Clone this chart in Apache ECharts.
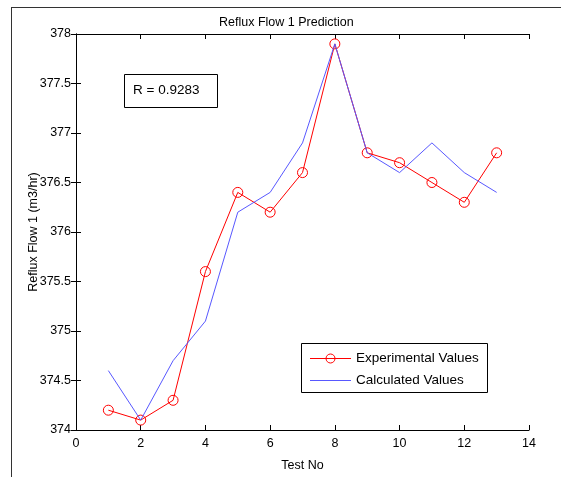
<!DOCTYPE html>
<html><head><meta charset="utf-8">
<script src="https://cdn.jsdelivr.net/npm/echarts@6/dist/echarts.min.js"></script>
<style>html,body{margin:0;padding:0;background:#fff}#c{width:561px;height:477px}</style>
</head><body><div id="c"></div>
<script>
const testNo = [1,2,3,4,5,6,7,8,9,10,11,12,13];
const experimental = [374.2,374.1,374.3,375.6,376.4,376.2,376.6,377.9,376.8,376.7,376.5,376.3,376.8];
const calculated = [374.6,374.1,374.7,375.1,376.2,376.4,376.9,377.9,376.8,376.6,376.9,376.6,376.4];
const titleText = 'Reflux Flow 1 Prediction';
const xName = 'Test No';
const yName = 'Reflux Flow 1 (m3/hr)';
const rText = 'R = 0.9283';
const seriesNames = ['Experimental Values','Calculated Values'];

const font = 'Liberation Sans, Arial, sans-serif';
const red = '#ff0000', blue = '#5858ff';
const chart = echarts.init(document.getElementById('c'), null, {renderer:'canvas'});
const pair = (xs, ys) => xs.map((x,i)=>[x, ys[i]]);
const axisCommon = {
  axisLine:{show:true, lineStyle:{color:'#000', width:1}},
  axisTick:{show:true, inside:true, length:5, lineStyle:{color:'#000'}},
  splitLine:{show:false}
};
chart.setOption({
  animation:false,
  backgroundColor:'#fff',
  title:{text:titleText, left:214, top:11,
    textStyle:{fontFamily:font, fontSize:12.5, fontWeight:'normal', color:'#000'}},
  grid:{left:76, right:32, top:34, bottom:44, containLabel:false},
  xAxis:[
    Object.assign({type:'value', min:0, max:14, interval:2, name:xName, nameLocation:'middle', nameGap:29,
      nameMoveOverlap:false,
      nameTextStyle:{fontFamily:font, fontSize:12.5, color:'#000'},
      axisLabel:{fontFamily:font, fontSize:12.5, color:'#000', margin:7}}, axisCommon),
    Object.assign({type:'value', min:0, max:14, interval:2, position:'top', axisLabel:{show:false}}, axisCommon)
  ],
  yAxis:[
    Object.assign({type:'value', min:374, max:378, interval:0.5, name:yName, nameLocation:'middle', nameGap:36,
      nameMoveOverlap:false,
      nameTextStyle:{fontFamily:font, fontSize:12.5, color:'#000'},
      axisLabel:{fontFamily:font, fontSize:12.5, color:'#000', margin:5}}, axisCommon),
    Object.assign({type:'value', min:374, max:378, interval:0.5, position:'right', axisLabel:{show:false}}, axisCommon)
  ],
  series:[
    {name:seriesNames[0], type:'line', data:pair(testNo, experimental),
      symbol:'circle', symbolSize:10, lineStyle:{color:red, width:1},
      itemStyle:{color:'rgba(0,0,0,0)', borderColor:red, borderWidth:1}, z:2},
    {name:seriesNames[1], type:'line', data:pair(testNo, calculated),
      symbol:'none', lineStyle:{color:blue, width:1}, itemStyle:{color:blue}, z:3}
  ],
  graphic:[
    {type:'line', shape:{x1:11, y1:7.5, x2:561, y2:7.5}, style:{stroke:'#333', lineWidth:1}, silent:true},
    {type:'line', shape:{x1:11.5, y1:7, x2:11.5, y2:477}, style:{stroke:'#333', lineWidth:1}, silent:true},
    {type:'rect', shape:{x:124.5, y:74.5, width:93, height:33}, style:{fill:'#fff', stroke:'#000', lineWidth:1}, z:10},
    {type:'text', left:133, top:83, style:{text:rText, fontFamily:font, fontSize:13.5, fill:'#000'}, z:11},
    {type:'rect', shape:{x:301.5, y:343.5, width:186, height:49}, style:{fill:'#fff', stroke:'#000', lineWidth:1}, z:10},
    {type:'line', shape:{x1:310, y1:358.5, x2:351, y2:358.5}, style:{stroke:red, lineWidth:1}, z:11},
    {type:'circle', shape:{cx:330.5, cy:358.5, r:4.5}, style:{fill:'none', stroke:red, lineWidth:1}, z:11},
    {type:'text', left:356, top:351, style:{text:seriesNames[0], fontFamily:font, fontSize:13.5, fill:'#000'}, z:11},
    {type:'line', shape:{x1:310, y1:380.5, x2:351, y2:380.5}, style:{stroke:blue, lineWidth:1}, z:11},
    {type:'text', left:356, top:373, style:{text:seriesNames[1], fontFamily:font, fontSize:13.5, fill:'#000'}, z:11}
  ]
});
</script></body></html>
